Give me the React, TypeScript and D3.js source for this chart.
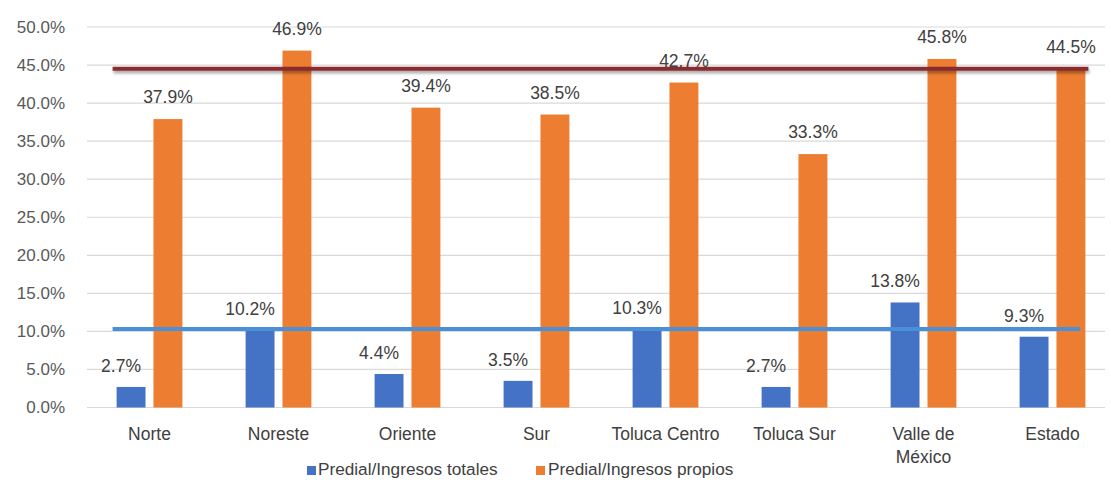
import React from 'react';
import * as d3 from 'd3';

const regions = ['Norte', 'Noreste', 'Oriente', 'Sur', 'Toluca Centro', 'Toluca Sur', 'Valle de México', 'Estado'];
const regionLines = [['Norte'], ['Noreste'], ['Oriente'], ['Sur'], ['Toluca Centro'], ['Toluca Sur'], ['Valle de', 'México'], ['Estado']];
const totales = [2.7, 10.2, 4.4, 3.5, 10.3, 2.7, 13.8, 9.3];
const propios = [37.9, 46.9, 39.4, 38.5, 42.7, 33.3, 45.8, 44.5];
const yTicks = [0, 5, 10, 15, 20, 25, 30, 35, 40, 45, 50];
const seriesNames = ['Predial/Ingresos totales', 'Predial/Ingresos propios'];
const refTotales = 10.3;
const refPropios = 44.5;

const width = 1111;
const height = 500;
const blue = '#4472C4';
const orange = '#ED7D31';
const font = '"Liberation Sans", Arial, Helvetica, sans-serif';

const App: React.FC = () => {
    const x = d3.scaleBand<string>()
        .domain(regions)
        .range([85, 1117])
        .paddingInner(0.49)
        .paddingOuter(0.245);

    const sub = d3.scaleBand<string>()
        .domain(['t', 'p'])
        .range([0, x.bandwidth()])
        .paddingInner(0.216);

    const y = d3.scaleLinear().domain([0, 50]).range([407.5, 27]);

    const lineStart = (x(regions[0]) as number) - 4;
    const lineEnd = (x(regions[regions.length - 1]) as number) + x.bandwidth() + 3;

    return (
        <svg width={width} height={height} style={{ position: 'absolute', left: 0, top: 0, background: '#fff' }} fontFamily={font}>
            <defs>
                <filter id="blur" filterUnits="userSpaceOnUse" x={0} y={0} width={width} height={height}>
                    <feGaussianBlur stdDeviation="1.5" />
                </filter>
            </defs>
            {yTicks.map(t => (
                <g key={t}>
                    <line x1={87} x2={1105} y1={y(t)} y2={y(t)} stroke="#d9d9d9" strokeWidth={1.2} />
                    <text x={65} y={y(t)} dy="0.35em" textAnchor="end" fontSize={17} fill="#595959">
                        {t.toFixed(1) + '%'}
                    </text>
                </g>
            ))}
            {regions.map((r, i) => {
                const x0 = x(r) as number;
                const tx = x0 + (sub('t') as number);
                const px = x0 + (sub('p') as number);
                const bw = sub.bandwidth();
                return (
                    <g key={r}>
                        <rect x={tx} y={y(totales[i])} width={bw} height={y(0) - y(totales[i])} fill={blue} />
                        <rect x={px} y={y(propios[i])} width={bw} height={y(0) - y(propios[i])} fill={orange} />
                    </g>
                );
            })}
            <line x1={lineStart + 1} x2={lineEnd + 1} y1={y(refPropios) + 2.5} y2={y(refPropios) + 2.5} stroke="#000" strokeOpacity={0.35} strokeWidth={4} filter="url(#blur)" />
            <line x1={lineStart} x2={lineEnd} y1={y(refPropios)} y2={y(refPropios)} stroke="#8B2B2E" strokeWidth={4} />
            <line x1={lineStart} x2={lineEnd - 8} y1={y(refTotales)} y2={y(refTotales)} stroke="#4A90D9" strokeWidth={4} />
            {regions.map((r, i) => {
                const x0 = x(r) as number;
                const tx = x0 + (sub('t') as number) + sub.bandwidth() / 2;
                const px = x0 + (sub('p') as number) + sub.bandwidth() / 2;
                return (
                    <g key={'lab' + r} fontSize={17.5} fill="#404040">
                        <text x={tx - 10} y={y(totales[i]) - 15} textAnchor="middle">{totales[i].toFixed(1) + '%'}</text>
                        <text x={px} y={y(propios[i]) - 16} textAnchor="middle">{propios[i].toFixed(1) + '%'}</text>
                    </g>
                );
            })}
            {regions.map((r, i) => (
                <text key={'cat' + r} x={(x(r) as number) + x.bandwidth() / 2} y={440} textAnchor="middle" fontSize={17.5} fill="#404040">
                    {regionLines[i].map((l, j) => (
                        <tspan key={l} x={(x(r) as number) + x.bandwidth() / 2} dy={j === 0 ? 0 : 23}>{l}</tspan>
                    ))}
                </text>
            ))}
            <g fontSize={17.2} fill="#404040">
                <rect x={307} y={466} width={9} height={9} fill={blue} />
                <text x={318} y={475}>{seriesNames[0]}</text>
                <rect x={536} y={466} width={9} height={9} fill={orange} />
                <text x={548} y={475}>{seriesNames[1]}</text>
            </g>
        </svg>
    );
};

export default App;
